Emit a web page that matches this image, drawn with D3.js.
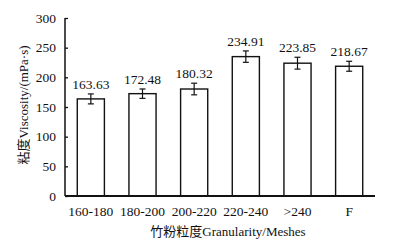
<!DOCTYPE html>
<html>
<head>
<meta charset="utf-8">
<script src="https://cdn.jsdelivr.net/npm/d3@7"></script>
<style>
  body { margin: 0; background: #fff; }
  text { font-family: "Liberation Serif", "Times New Roman", "Noto Sans CJK SC", serif; fill: #111; }
</style>
</head>
<body>
<div id="chart"></div>
<script>
var categories = ['160-180', '180-200', '200-220', '220-240', '>240', 'F'];
var viscosity = [163.63, 172.48, 180.32, 234.91, 223.85, 218.67];
var errors = [8.4, 7.9, 9.8, 9.6, 10, 8.4];
var yTicks = [0, 50, 100, 150, 200, 250, 300];

var width = 407, height = 244;
// note: "top" is taken by window.top, so use plotTop etc.
var plotLeft = 65, plotRight = 375, plotTop = 18, plotBottom = 196;

var svg = d3.select('#chart').append('svg')
  .attr('width', width)
  .attr('height', height);

var x = d3.scaleBand().domain(categories).range([plotLeft, plotRight]).paddingInner(0.475).paddingOuter(0.2375);
var y = d3.scaleLinear().domain([0, 300]).range([plotBottom, plotTop]);

function cx(i) { return x(categories[i]) + x.bandwidth() / 2; }

// bars
svg.selectAll('rect.bar').data(viscosity).enter()
  .append('rect')
    .attr('class', 'bar')
    .attr('x', function(d, i) { return x(categories[i]); })
    .attr('y', function(d) { return y(d); })
    .attr('width', x.bandwidth())
    .attr('height', function(d) { return y(0) - y(d); })
    .attr('fill', '#fff')
    .attr('stroke', '#111')
    .attr('stroke-width', 1.4);

// error bars
var eb = svg.selectAll('g.err').data(viscosity).enter()
  .append('g').attr('class', 'err')
  .attr('stroke', '#111').attr('stroke-width', 1.2);
eb.append('line')
  .attr('x1', function(d, i) { return cx(i); })
  .attr('x2', function(d, i) { return cx(i); })
  .attr('y1', function(d, i) { return y(d + errors[i]); })
  .attr('y2', function(d, i) { return y(d - errors[i]); });
[1, -1].forEach(function(sign) {
  eb.append('line')
    .attr('x1', function(d, i) { return cx(i) - 3; })
    .attr('x2', function(d, i) { return cx(i) + 3; })
    .attr('y1', function(d, i) { return y(d + sign * errors[i]); })
    .attr('y2', function(d, i) { return y(d + sign * errors[i]); });
});

// value labels
svg.selectAll('text.val').data(viscosity).enter()
  .append('text')
    .attr('class', 'val')
    .attr('x', function(d, i) { return cx(i); })
    .attr('y', function(d, i) { return y(d + errors[i]) - 5; })
    .attr('text-anchor', 'middle')
    .style('font-size', '13.5px')
    .text(function(d) { return d.toFixed(2); });

// y axis
var yAxis = svg.append('g')
  .attr('transform', 'translate(' + plotLeft + ',0)')
  .call(d3.axisLeft(y).tickValues(yTicks).tickSize(-3).tickPadding(9));
yAxis.select('.domain').attr('stroke', '#111').attr('stroke-width', 1.5).attr('d', 'M0,' + plotTop + 'V' + plotBottom);
yAxis.selectAll('.tick line').attr('stroke', '#111').attr('stroke-width', 1.3);
yAxis.selectAll('.tick text').style('font-size', '13.5px').attr('fill', '#111');

// x axis
var xAxis = svg.append('g')
  .attr('transform', 'translate(0,' + plotBottom + ')')
  .call(d3.axisBottom(x).tickSize(0).tickPadding(10));
xAxis.select('.domain').attr('stroke', '#111').attr('stroke-width', 1.8).attr('d', 'M' + plotLeft + ',0H' + plotRight);
xAxis.selectAll('.tick text').style('font-size', '13.5px').attr('fill', '#111');

// axis titles
svg.append('text')
  .attr('x', 228)
  .attr('y', 236)
  .attr('text-anchor', 'middle')
  .style('font-size', '13px')
  .text('竹粉粒度Granularity/Meshes');

svg.append('text')
  .attr('transform', 'translate(28,105) rotate(-90)')
  .attr('text-anchor', 'middle')
  .style('font-size', '13px')
  .text('粘度Viscosity/(mPa·s)');
</script>
</body>
</html>
